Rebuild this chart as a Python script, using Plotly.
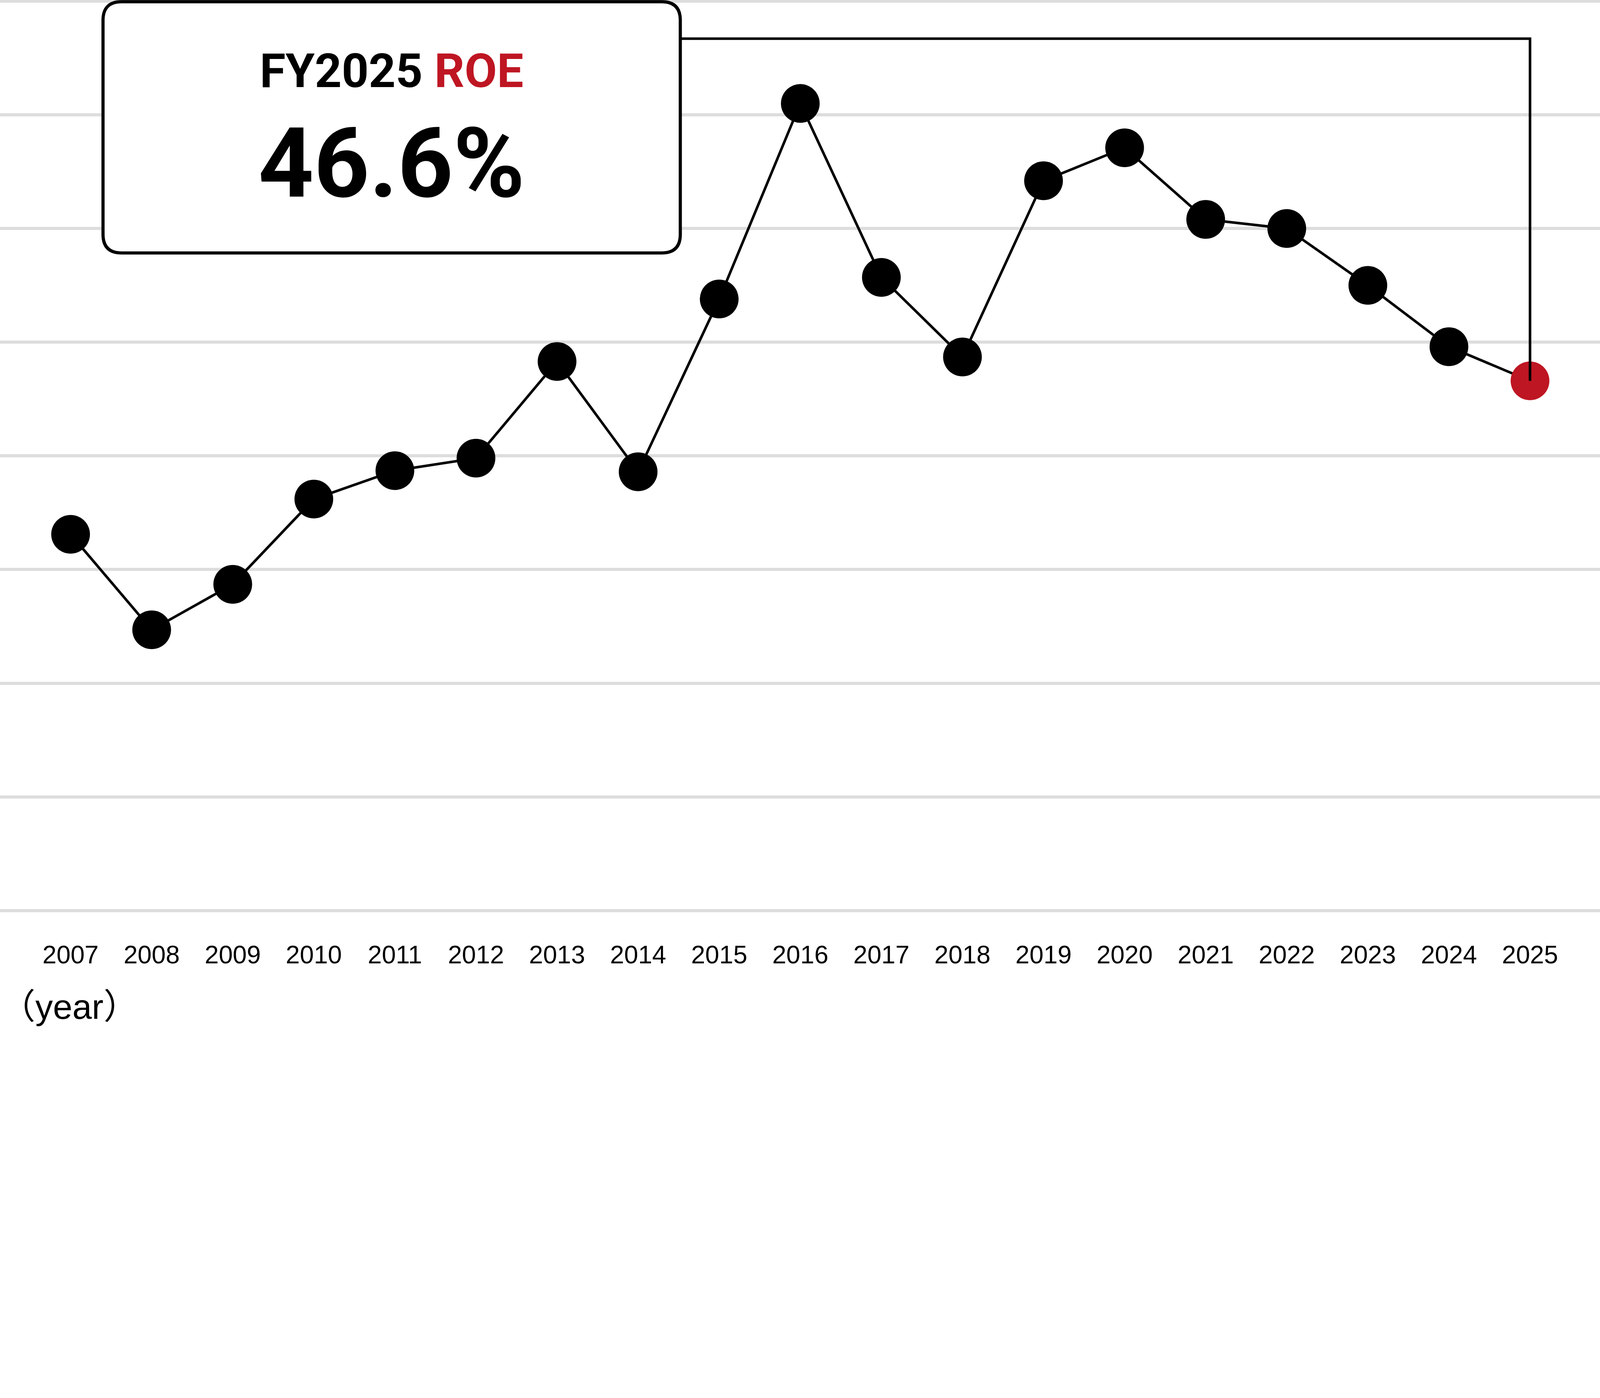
import plotly.graph_objects as go

# ROE by fiscal year (%)
years = list(range(2007, 2026))
roe = [33.1, 24.7, 28.7, 36.2, 38.7, 39.8, 48.3, 38.6, 53.8, 71.0,
       55.7, 48.7, 64.2, 67.1, 60.8, 60.0, 55.0, 49.6, 46.6]

grid_vals = list(range(0, 90, 10))
year_labels = [str(y) for y in years]

RED = "#BE1622"
# the page is shown with a device pixel ratio of ~1.36, so size everything in css px
S = 1 / 1.3616
W, H = 5581, 3580
BOTTOM = 395  # px below the plot area

marker_colors = ["black"] * (len(roe) - 1) + [RED]

fig = go.Figure()
fig.add_trace(go.Scatter(
    x=years, y=roe,
    mode="lines+markers",
    line=dict(color="black", width=9 * S),
    marker=dict(color=marker_colors, size=135 * S, line=dict(width=0)),
    hoverinfo="x+y",
    showlegend=False,
))

# callout box (rounded rectangle) in data coords
x0, x1 = 2007.40, 2014.52
y0, y1 = 57.85, 79.95
rx, ry = 0.23, 1.64
box_path = (
    f"M {x0 + rx},{y1} L {x1 - rx},{y1} Q {x1},{y1} {x1},{y1 - ry} "
    f"L {x1},{y0 + ry} Q {x1},{y0} {x1 - rx},{y0} "
    f"L {x0 + rx},{y0} Q {x0},{y0} {x0},{y0 + ry} "
    f"L {x0},{y1 - ry} Q {x0},{y1} {x0 + rx},{y1} Z"
)
fig.add_shape(type="path", path=box_path, xref="x", yref="y",
              fillcolor="white", line=dict(color="black", width=11 * S), layer="above")

# connector from the box to the latest point
conn_y = 76.7
fig.add_shape(type="path", xref="x", yref="y", layer="above",
              path=f"M {x1},{conn_y} L {years[-1]},{conn_y} L {years[-1]},{roe[-1]}",
              line=dict(color="black", width=9 * S))

cx = (x0 + x1) / 2
fig.add_annotation(x=cx, y=73.87, xref="x", yref="y", showarrow=False,
                   text=f"FY{years[-1]} <span style='color:{RED}'>ROE</span>",
                   font=dict(family="Roboto", size=164 * S, color="black", weight=700),
                   xanchor="center", yanchor="middle")
fig.add_annotation(x=cx, y=65.70, xref="x", yref="y", showarrow=False,
                   text=f"{roe[-1]:.1f}%",
                   font=dict(family="Roboto", size=338 * S, color="black", weight=700),
                   xanchor="center", yanchor="middle")

# axis unit label sits on the bottom edge of the figure
fig.add_annotation(x=0.0, y=-BOTTOM / (H - BOTTOM), xref="paper", yref="paper", showarrow=False,
                   text="（year）", xanchor="left", yanchor="bottom", borderpad=0,
                   font=dict(family="Liberation Sans, Noto Sans CJK JP", size=122 * S, color="black"))

fig.update_xaxes(range=[2006.1295, 2025.8776], tickvals=years, ticktext=year_labels,
                 showgrid=False, zeroline=False, showline=False,
                 ticks="outside", ticklen=68 * S, tickcolor="rgba(0,0,0,0)",
                 tickfont=dict(family="Liberation Sans", size=88 * S, color="black"))
fig.update_yaxes(range=[-0.247, 80.101], tickvals=grid_vals, showticklabels=False,
                 showgrid=True, gridcolor="#dddddd", gridwidth=11 * S, zeroline=False, showline=False)

fig.update_layout(
    width=round(W * S), height=round(H * S),
    margin=dict(l=0, r=0, t=0, b=BOTTOM * S, pad=0),
    plot_bgcolor="white", paper_bgcolor="white",
)

fig.write_html("out.html", config={"displayModeBar": False},
               post_script="document.body.style.margin='0px';")
